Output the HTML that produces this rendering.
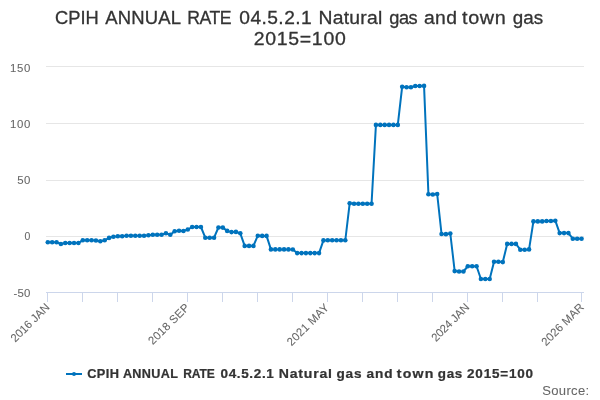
<!DOCTYPE html>
<html><head><meta charset="utf-8"><style>
html,body{margin:0;padding:0;background:#fff;overflow:hidden;}
svg{display:block;will-change:transform;}
text{font-family:"Liberation Sans",sans-serif;}
</style></head><body>
<svg width="600" height="400" viewBox="0 0 600 400">
<rect width="600" height="400" fill="#ffffff"/>
<path d="M46 66.5H584M46 123.5H584M46 180.5H584M46 236.5H584" stroke="#e6e6e6" stroke-width="1"/>
<path d="M46 292.5H584M47.5 292V302 M82.5 292V302 M117.5 292V302 M152.5 292V302 M187.5 292V302 M222.5 292V302 M257.5 292V302 M292.5 292V302 M327.5 292V302 M362.5 292V302 M397.5 292V302 M432.5 292V302 M467.5 292V302 M502.5 292V302 M537.5 292V302 M581.5 292V302" stroke="#ccd6eb" stroke-width="1" fill="none"/>
<text x="-0.93" y="0" font-size="18.3" font-weight="normal" fill="#333333" stroke="#333333" stroke-width="0.3" letter-spacing="-0.000" transform="translate(56.00 24) scale(1.0000 1)">CPIH</text>
<text x="-0.04" y="0" font-size="18.3" font-weight="normal" fill="#333333" stroke="#333333" stroke-width="0.3" letter-spacing="0.149" transform="translate(105.30 24) scale(1.0102 1)">ANNUAL</text>
<text x="-1.50" y="0" font-size="18.3" font-weight="normal" fill="#333333" stroke="#333333" stroke-width="0.3" letter-spacing="-0.556" transform="translate(188.70 24) scale(0.9654 1)">RATE</text>
<text x="-0.71" y="0" font-size="18.3" font-weight="normal" fill="#333333" stroke="#333333" stroke-width="0.3" letter-spacing="0.427" transform="translate(240.00 24) scale(1.0486 1)">04.5.2.1</text>
<text x="-1.54" y="0" font-size="18.8" font-weight="normal" fill="#333333" stroke="#333333" stroke-width="0.3" letter-spacing="0.259" transform="translate(320.00 24) scale(1.0276 1)">Natural</text>
<text x="-0.79" y="0" font-size="18.8" font-weight="normal" fill="#333333" stroke="#333333" stroke-width="0.3" letter-spacing="-0.476" transform="translate(390.00 24) scale(0.9681 1)">gas</text>
<text x="-0.80" y="0" font-size="18.8" font-weight="normal" fill="#333333" stroke="#333333" stroke-width="0.3" letter-spacing="0.388" transform="translate(424.80 24) scale(1.0271 1)">and</text>
<text x="-0.28" y="0" font-size="18.8" font-weight="normal" fill="#333333" stroke="#333333" stroke-width="0.3" letter-spacing="0.640" transform="translate(462.25 24) scale(1.0529 1)">town</text>
<text x="-0.79" y="0" font-size="18.8" font-weight="normal" fill="#333333" stroke="#333333" stroke-width="0.3" letter-spacing="-0.011" transform="translate(513.60 24) scale(0.9993 1)">gas</text>
<text x="-0.92" y="0" font-size="18.3" font-weight="normal" fill="#333333" stroke="#333333" stroke-width="0.3" letter-spacing="0.679" transform="translate(254.60 45) scale(1.0629 1)">2015=100</text>
<text x="-0.50" y="0" font-size="12.2" font-weight="bold" fill="#333333" stroke="#333333" stroke-width="0.23" letter-spacing="0.425" transform="translate(87.70 378) scale(1.0481 1)">CPIH</text>
<text x="-0.30" y="0" font-size="12.2" font-weight="bold" fill="#333333" stroke="#333333" stroke-width="0.23" letter-spacing="0.345" transform="translate(123.20 378) scale(1.0352 1)">ANNUAL</text>
<text x="-0.82" y="0" font-size="12.2" font-weight="bold" fill="#333333" stroke="#333333" stroke-width="0.23" letter-spacing="-0.121" transform="translate(184.00 378) scale(0.9888 1)">RATE</text>
<text x="-0.48" y="0" font-size="12.2" font-weight="bold" fill="#333333" stroke="#333333" stroke-width="0.23" letter-spacing="0.596" transform="translate(221.00 378) scale(1.1066 1)">04.5.2.1</text>
<text x="-0.84" y="0" font-size="12.6" font-weight="bold" fill="#333333" stroke="#333333" stroke-width="0.23" letter-spacing="0.726" transform="translate(279.60 378) scale(1.1167 1)">Natural</text>
<text x="-0.52" y="0" font-size="12.6" font-weight="bold" fill="#333333" stroke="#333333" stroke-width="0.23" letter-spacing="0.769" transform="translate(337.00 378) scale(1.0803 1)">gas</text>
<text x="-0.37" y="0" font-size="12.6" font-weight="bold" fill="#333333" stroke="#333333" stroke-width="0.23" letter-spacing="0.808" transform="translate(367.00 378) scale(1.0825 1)">and</text>
<text x="-0.15" y="0" font-size="12.6" font-weight="bold" fill="#333333" stroke="#333333" stroke-width="0.23" letter-spacing="1.045" transform="translate(397.00 378) scale(1.1238 1)">town</text>
<text x="-0.52" y="0" font-size="12.6" font-weight="bold" fill="#333333" stroke="#333333" stroke-width="0.23" letter-spacing="0.638" transform="translate(438.30 378) scale(1.0658 1)">gas</text>
<text x="-0.42" y="0" font-size="12.2" font-weight="bold" fill="#333333" stroke="#333333" stroke-width="0.23" letter-spacing="0.730" transform="translate(467.50 378) scale(1.1053 1)">2015=100</text>
<text x="-0.57" y="0" font-size="12.5" font-weight="normal" fill="#666666" stroke="#666666" stroke-width="0.05" letter-spacing="0.305" transform="translate(542.80 394.5) scale(1.0463 1)">Source:</text>
<text x="10.03" y="72" font-size="11.4" font-weight="normal" fill="#666666" stroke="#666666" stroke-width="0.07" letter-spacing="0.697">150</text>
<text x="10.03" y="128" font-size="11.4" font-weight="normal" fill="#666666" stroke="#666666" stroke-width="0.07" letter-spacing="0.697">100</text>
<text x="17.29" y="184" font-size="11.4" font-weight="normal" fill="#666666" stroke="#666666" stroke-width="0.07" letter-spacing="0.471">50</text>
<text x="24.59" y="240" font-size="11.4" font-weight="normal" fill="#666666" stroke="#666666" stroke-width="0.07" textLength="5.82" lengthAdjust="spacingAndGlyphs">0</text>
<text x="13.39" y="297" font-size="11.4" font-weight="normal" fill="#666666" stroke="#666666" stroke-width="0.07" letter-spacing="0.288">-50</text>
<text x="-0.57" y="0" font-size="11.4" font-weight="normal" fill="#666666" stroke="#666666" stroke-width="0.07" letter-spacing="-0.080" transform="translate(15.7 342.4) rotate(-45)">2016 JAN</text>
<text x="-0.57" y="0" font-size="11.4" font-weight="normal" fill="#666666" stroke="#666666" stroke-width="0.07" letter-spacing="0.191" transform="translate(153.2 344.9) rotate(-45)">2018 SEP</text>
<text x="-0.57" y="0" font-size="11.4" font-weight="normal" fill="#666666" stroke="#666666" stroke-width="0.07" letter-spacing="0.227" transform="translate(291.9 346) rotate(-45)">2021 MAY</text>
<text x="-0.57" y="0" font-size="11.4" font-weight="normal" fill="#666666" stroke="#666666" stroke-width="0.07" letter-spacing="-0.252" transform="translate(436.3 341.75) rotate(-45)">2024 JAN</text>
<text x="-0.57" y="0" font-size="11.4" font-weight="normal" fill="#666666" stroke="#666666" stroke-width="0.07" letter-spacing="0.120" transform="translate(546.3 346.1) rotate(-45)">2026 MAR</text>
<path d="M 47.80 242.30 L 52.17 242.30 L 56.55 242.30 L 60.92 244.00 L 65.30 243.00 L 69.67 243.00 L 74.05 243.00 L 78.42 243.00 L 82.80 240.30 L 87.17 240.30 L 91.55 240.30 L 95.92 240.50 L 100.30 241.30 L 104.67 240.30 L 109.05 237.90 L 113.42 236.70 L 117.80 236.20 L 122.17 236.30 L 126.55 235.70 L 130.93 235.70 L 135.30 235.70 L 139.68 235.70 L 144.05 235.70 L 148.43 235.30 L 152.80 234.80 L 157.18 234.80 L 161.55 234.80 L 165.93 233.30 L 170.30 234.80 L 174.68 231.30 L 179.05 230.80 L 183.43 231.00 L 187.80 229.50 L 192.18 227.00 L 196.55 227.00 L 200.93 227.00 L 205.30 237.70 L 209.68 237.70 L 214.05 237.70 L 218.43 227.50 L 222.80 227.60 L 227.18 230.90 L 231.55 232.10 L 235.93 231.90 L 240.30 233.30 L 244.68 245.90 L 249.05 245.90 L 253.43 245.90 L 257.80 235.70 L 262.18 235.90 L 266.55 235.90 L 270.93 249.40 L 275.30 249.40 L 279.68 249.40 L 284.05 249.40 L 288.43 249.40 L 292.80 249.50 L 297.18 253.10 L 301.55 253.10 L 305.93 253.10 L 310.30 253.10 L 314.68 253.10 L 319.05 253.10 L 323.43 240.40 L 327.80 240.30 L 332.18 240.25 L 336.55 240.25 L 340.93 240.25 L 345.30 240.25 L 349.68 203.30 L 354.05 203.70 L 358.43 203.70 L 362.80 203.70 L 367.18 203.70 L 371.55 203.70 L 375.93 124.90 L 380.30 124.90 L 384.68 124.90 L 389.05 124.90 L 393.43 124.90 L 397.80 124.90 L 402.18 86.70 L 406.55 87.20 L 410.93 87.20 L 415.30 86.00 L 419.68 86.00 L 424.05 85.90 L 428.43 194.25 L 432.80 194.50 L 437.18 194.00 L 441.55 234.00 L 445.93 234.15 L 450.30 233.50 L 454.68 271.10 L 459.05 271.50 L 463.43 271.50 L 467.80 266.25 L 472.18 266.25 L 476.55 266.25 L 480.93 279.00 L 485.30 279.00 L 489.68 279.00 L 494.05 261.70 L 498.43 261.70 L 502.80 262.10 L 507.18 243.90 L 511.55 243.90 L 515.92 243.90 L 520.30 249.70 L 524.67 249.70 L 529.05 249.40 L 533.42 221.40 L 537.80 221.40 L 542.17 221.40 L 546.55 221.00 L 550.92 221.00 L 555.30 220.70 L 559.67 233.10 L 564.05 233.10 L 568.42 233.10 L 572.80 238.70 L 577.17 238.70 L 581.55 238.70" fill="none" stroke="#0073bd" stroke-width="2" stroke-linejoin="round" stroke-linecap="round"/>
<g fill="#0073bd"><circle cx="47.80" cy="242.30" r="2.3"/><circle cx="52.17" cy="242.30" r="2.3"/><circle cx="56.55" cy="242.30" r="2.3"/><circle cx="60.92" cy="244.00" r="2.3"/><circle cx="65.30" cy="243.00" r="2.3"/><circle cx="69.67" cy="243.00" r="2.3"/><circle cx="74.05" cy="243.00" r="2.3"/><circle cx="78.42" cy="243.00" r="2.3"/><circle cx="82.80" cy="240.30" r="2.3"/><circle cx="87.17" cy="240.30" r="2.3"/><circle cx="91.55" cy="240.30" r="2.3"/><circle cx="95.92" cy="240.50" r="2.3"/><circle cx="100.30" cy="241.30" r="2.3"/><circle cx="104.67" cy="240.30" r="2.3"/><circle cx="109.05" cy="237.90" r="2.3"/><circle cx="113.42" cy="236.70" r="2.3"/><circle cx="117.80" cy="236.20" r="2.3"/><circle cx="122.17" cy="236.30" r="2.3"/><circle cx="126.55" cy="235.70" r="2.3"/><circle cx="130.93" cy="235.70" r="2.3"/><circle cx="135.30" cy="235.70" r="2.3"/><circle cx="139.68" cy="235.70" r="2.3"/><circle cx="144.05" cy="235.70" r="2.3"/><circle cx="148.43" cy="235.30" r="2.3"/><circle cx="152.80" cy="234.80" r="2.3"/><circle cx="157.18" cy="234.80" r="2.3"/><circle cx="161.55" cy="234.80" r="2.3"/><circle cx="165.93" cy="233.30" r="2.3"/><circle cx="170.30" cy="234.80" r="2.3"/><circle cx="174.68" cy="231.30" r="2.3"/><circle cx="179.05" cy="230.80" r="2.3"/><circle cx="183.43" cy="231.00" r="2.3"/><circle cx="187.80" cy="229.50" r="2.3"/><circle cx="192.18" cy="227.00" r="2.3"/><circle cx="196.55" cy="227.00" r="2.3"/><circle cx="200.93" cy="227.00" r="2.3"/><circle cx="205.30" cy="237.70" r="2.3"/><circle cx="209.68" cy="237.70" r="2.3"/><circle cx="214.05" cy="237.70" r="2.3"/><circle cx="218.43" cy="227.50" r="2.3"/><circle cx="222.80" cy="227.60" r="2.3"/><circle cx="227.18" cy="230.90" r="2.3"/><circle cx="231.55" cy="232.10" r="2.3"/><circle cx="235.93" cy="231.90" r="2.3"/><circle cx="240.30" cy="233.30" r="2.3"/><circle cx="244.68" cy="245.90" r="2.3"/><circle cx="249.05" cy="245.90" r="2.3"/><circle cx="253.43" cy="245.90" r="2.3"/><circle cx="257.80" cy="235.70" r="2.3"/><circle cx="262.18" cy="235.90" r="2.3"/><circle cx="266.55" cy="235.90" r="2.3"/><circle cx="270.93" cy="249.40" r="2.3"/><circle cx="275.30" cy="249.40" r="2.3"/><circle cx="279.68" cy="249.40" r="2.3"/><circle cx="284.05" cy="249.40" r="2.3"/><circle cx="288.43" cy="249.40" r="2.3"/><circle cx="292.80" cy="249.50" r="2.3"/><circle cx="297.18" cy="253.10" r="2.3"/><circle cx="301.55" cy="253.10" r="2.3"/><circle cx="305.93" cy="253.10" r="2.3"/><circle cx="310.30" cy="253.10" r="2.3"/><circle cx="314.68" cy="253.10" r="2.3"/><circle cx="319.05" cy="253.10" r="2.3"/><circle cx="323.43" cy="240.40" r="2.3"/><circle cx="327.80" cy="240.30" r="2.3"/><circle cx="332.18" cy="240.25" r="2.3"/><circle cx="336.55" cy="240.25" r="2.3"/><circle cx="340.93" cy="240.25" r="2.3"/><circle cx="345.30" cy="240.25" r="2.3"/><circle cx="349.68" cy="203.30" r="2.3"/><circle cx="354.05" cy="203.70" r="2.3"/><circle cx="358.43" cy="203.70" r="2.3"/><circle cx="362.80" cy="203.70" r="2.3"/><circle cx="367.18" cy="203.70" r="2.3"/><circle cx="371.55" cy="203.70" r="2.3"/><circle cx="375.93" cy="124.90" r="2.3"/><circle cx="380.30" cy="124.90" r="2.3"/><circle cx="384.68" cy="124.90" r="2.3"/><circle cx="389.05" cy="124.90" r="2.3"/><circle cx="393.43" cy="124.90" r="2.3"/><circle cx="397.80" cy="124.90" r="2.3"/><circle cx="402.18" cy="86.70" r="2.3"/><circle cx="406.55" cy="87.20" r="2.3"/><circle cx="410.93" cy="87.20" r="2.3"/><circle cx="415.30" cy="86.00" r="2.3"/><circle cx="419.68" cy="86.00" r="2.3"/><circle cx="424.05" cy="85.90" r="2.3"/><circle cx="428.43" cy="194.25" r="2.3"/><circle cx="432.80" cy="194.50" r="2.3"/><circle cx="437.18" cy="194.00" r="2.3"/><circle cx="441.55" cy="234.00" r="2.3"/><circle cx="445.93" cy="234.15" r="2.3"/><circle cx="450.30" cy="233.50" r="2.3"/><circle cx="454.68" cy="271.10" r="2.3"/><circle cx="459.05" cy="271.50" r="2.3"/><circle cx="463.43" cy="271.50" r="2.3"/><circle cx="467.80" cy="266.25" r="2.3"/><circle cx="472.18" cy="266.25" r="2.3"/><circle cx="476.55" cy="266.25" r="2.3"/><circle cx="480.93" cy="279.00" r="2.3"/><circle cx="485.30" cy="279.00" r="2.3"/><circle cx="489.68" cy="279.00" r="2.3"/><circle cx="494.05" cy="261.70" r="2.3"/><circle cx="498.43" cy="261.70" r="2.3"/><circle cx="502.80" cy="262.10" r="2.3"/><circle cx="507.18" cy="243.90" r="2.3"/><circle cx="511.55" cy="243.90" r="2.3"/><circle cx="515.92" cy="243.90" r="2.3"/><circle cx="520.30" cy="249.70" r="2.3"/><circle cx="524.67" cy="249.70" r="2.3"/><circle cx="529.05" cy="249.40" r="2.3"/><circle cx="533.42" cy="221.40" r="2.3"/><circle cx="537.80" cy="221.40" r="2.3"/><circle cx="542.17" cy="221.40" r="2.3"/><circle cx="546.55" cy="221.00" r="2.3"/><circle cx="550.92" cy="221.00" r="2.3"/><circle cx="555.30" cy="220.70" r="2.3"/><circle cx="559.67" cy="233.10" r="2.3"/><circle cx="564.05" cy="233.10" r="2.3"/><circle cx="568.42" cy="233.10" r="2.3"/><circle cx="572.80" cy="238.70" r="2.3"/><circle cx="577.17" cy="238.70" r="2.3"/><circle cx="581.55" cy="238.70" r="2.3"/></g>
<path d="M66 374H82" stroke="#0073bd" stroke-width="2"/>
<circle cx="74" cy="374" r="2" fill="#0073bd"/>
</svg>
</body></html>
